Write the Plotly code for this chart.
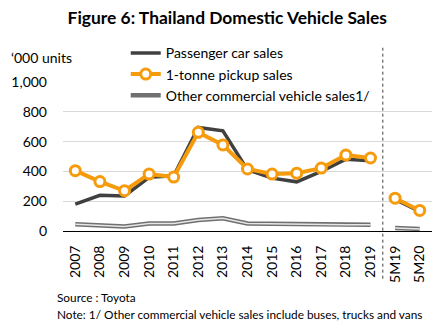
import plotly.graph_objects as go

years = ["2007", "2008", "2009", "2010", "2011", "2012", "2013",
         "2014", "2015", "2016", "2017", "2018", "2019"]
ytd = ["5M19", "5M20"]
categories = years + ytd

passenger_years = [180, 240, 235, 360, 370, 695, 672, 410, 355, 330, 400, 482, 472]
passenger_ytd = [212, 132]
pickup_years = [405, 332, 270, 382, 362, 662, 578, 416, 382, 388, 422, 510, 490]
pickup_ytd = [220, 138]
other_years = [45, 38, 30, 50, 50, 74, 85, 50, 48, 42, 42, 42, 42]
other_ytd = [20, 14]

y_ticks = [0, 200, 400, 600, 800, 1000]
y_tick_text = ["0", "200", "400", "600", "800", "1,000"]

FONT = "Lato"
DARK = "#404040"
ORANGE = "#F59B0C"

fig = go.Figure()

# Passenger car
fig.add_trace(go.Scatter(x=years, y=passenger_years, mode="lines", name="Passenger car sales",
                         line=dict(color=DARK, width=3.5), legendgroup="p"))
fig.add_trace(go.Scatter(x=ytd, y=passenger_ytd, mode="lines", showlegend=False,
                         line=dict(color=DARK, width=3.5), legendgroup="p"))

# Pickup
mk = dict(size=10, color="white", line=dict(color=ORANGE, width=3))
fig.add_trace(go.Scatter(x=years, y=pickup_years, mode="lines+markers", name="1-tonne pickup sales",
                         line=dict(color=ORANGE, width=4), marker=mk, legendgroup="k"))
fig.add_trace(go.Scatter(x=ytd, y=pickup_ytd, mode="lines+markers", showlegend=False,
                         line=dict(color=ORANGE, width=4), marker=mk, legendgroup="k"))

# Other commercial (double line)
fig.add_trace(go.Scatter(x=years, y=other_years, mode="lines", name="Other commercial vehicle sales1/",
                         line=dict(color="#707070", width=4.5), legendgroup="o"))
fig.add_trace(go.Scatter(x=ytd, y=other_ytd, mode="lines", showlegend=False,
                         line=dict(color="#707070", width=4.5), legendgroup="o"))
fig.add_trace(go.Scatter(x=years, y=other_years, mode="lines", showlegend=False,
                         line=dict(color="#e6e6e6", width=1.5), legendgroup="o"))
fig.add_trace(go.Scatter(x=ytd, y=other_ytd, mode="lines", showlegend=False,
                         line=dict(color="#e6e6e6", width=1.5), legendgroup="o"))

fig.add_shape(type="line", xref="x", yref="paper", x0=12.5, x1=12.5, y0=-0.32, y1=1.23,
              line=dict(color="#404040", width=1, dash="3px,3px"))

fig.update_layout(
    width=443, height=329,
    margin=dict(l=57, r=11, t=82, b=98),
    paper_bgcolor="white", plot_bgcolor="white",
    font=dict(family=FONT, color="#000000", size=14),
    title=dict(text="<b>Figure 6: Thailand Domestic Vehicle Sales</b>", x=0.513, xref="container",
               xanchor="center", y=0.945, yanchor="middle", font=dict(size=17.4, family=FONT)),
    showlegend=True,
    legend=dict(x=0.17, xanchor="left", y=1.30, yanchor="top", bgcolor="rgba(0,0,0,0)",
                font=dict(size=14, family=FONT), tracegroupgap=0, itemwidth=30),
    xaxis=dict(type="category", categoryorder="array", categoryarray=categories,
               range=[-0.5, 14.5], tickangle=-90, showgrid=False, showline=True,
               linecolor="#000000", linewidth=1, ticks="", tickfont=dict(size=14),
               ticklabelstandoff=8),
    yaxis=dict(range=[0, 1000], tickvals=y_ticks, ticktext=y_tick_text, showgrid=True,
               gridcolor="#d9d9d9", gridwidth=1, zeroline=False, showline=False, ticks="",
               tickfont=dict(size=14), ticklabelstandoff=15),
    annotations=[
        dict(text="\u2018000 units", xref="paper", yref="paper", x=-0.145, y=1.165,
             xanchor="left", yanchor="middle", showarrow=False, font=dict(size=14)),
        dict(text="Source : Toyota", xref="paper", yref="paper", x=-0.022, y=-0.447,
             xanchor="left", yanchor="middle", showarrow=False, font=dict(size=11.8)),
        dict(text="Note: 1/ Other commercial vehicle sales include buses, trucks and vans",
             xref="paper", yref="paper", x=-0.022, y=-0.562, xanchor="left", yanchor="middle",
             showarrow=False, font=dict(size=11.8)),
    ],
)

fig.write_html("out.html")
